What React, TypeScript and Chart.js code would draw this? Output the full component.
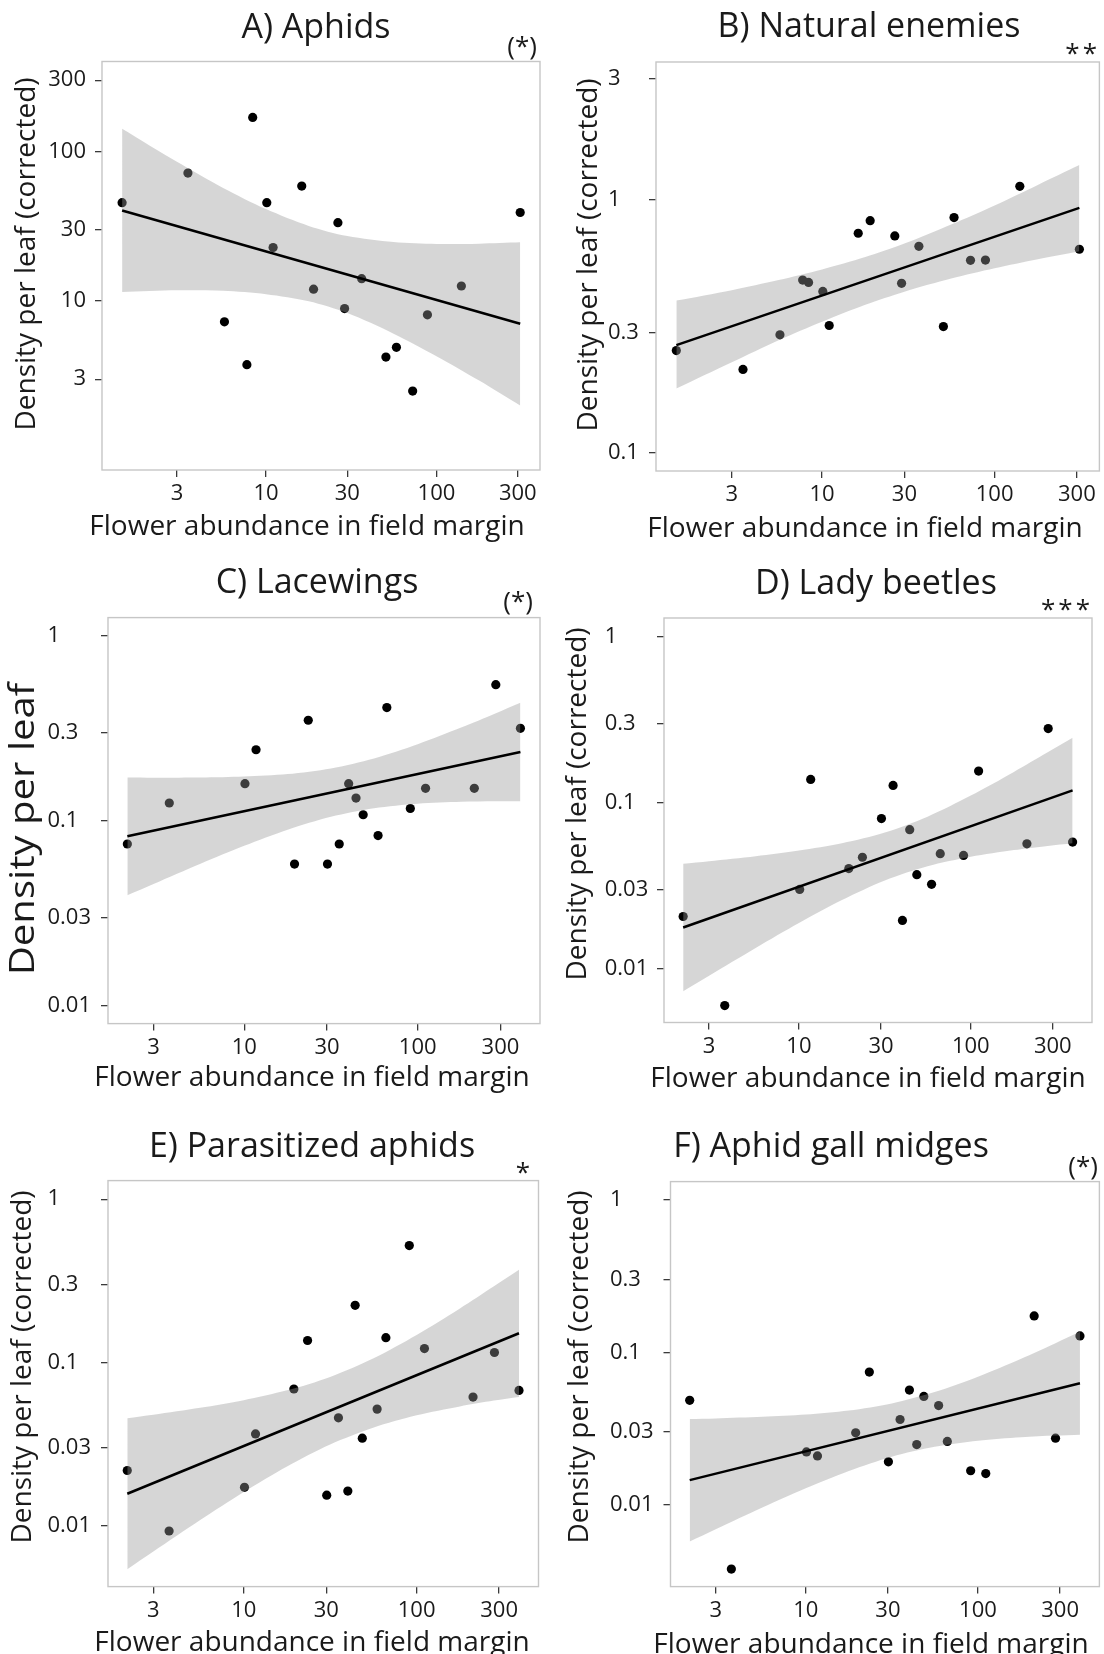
import React, { useEffect, useRef } from "react";
import { Chart, registerables } from "chart.js";

Chart.register(...registerables);

const FONT = "'Open Sans', 'Noto Sans', sans-serif";
const TEXT = "#1a1a1a";

// ---------- data: flower abundance (x) ----------
const flowersAB = [1.43, 3.48, 5.7, 7.72, 8.35, 10.1, 11.0, 16.2, 19.0, 26.4, 28.9, 36.4, 50.5, 58.2, 72.5, 88.5, 140, 310];
const flowersCF = [2.12, 3.7, 10.1, 11.7, 19.5, 23.4, 30.2, 35.3, 40.0, 44.1, 48.5, 59.1, 66.4, 90.7, 111, 212, 282, 391];

// ---------- data: densities (y) ----------
const aphidDensity = [45.5, 71.8, 7.26, 3.75, 169, 45.5, 22.8, 58.7, 12.0, 33.4, 8.9, 14.1, 4.22, 4.9, 2.5, 8.09, 12.6, 39.1];
const enemyDensity = [0.254, 0.214, 0.293, 0.482, 0.472, 0.435, 0.319, 0.738, 0.827, 0.72, 0.468, 0.655, 0.316, 0.851, 0.577, 0.578, 1.13, 0.638];
const lacewingDensity = [0.0751, 0.125, 0.159, 0.2425, 0.0585, 0.35, 0.0585, 0.0751, 0.159, 0.133, 0.108, 0.0834, 0.41, 0.1168, 0.15, 0.15, 0.545, 0.3166];
const ladyBeetleDensity = [0.0207, 0.00603, 0.0301, 0.138, 0.0402, 0.047, 0.0803, 0.127, 0.0196, 0.0688, 0.0369, 0.0323, 0.0494, 0.0482, 0.155, 0.0566, 0.279, 0.058];
const parasitizedDensity = [0.0218, 0.00929, 0.0172, 0.0365, 0.0688, 0.1363, 0.0154, 0.0458, 0.0163, 0.2238, 0.0344, 0.0518, 0.1418, 0.52, 0.1216, 0.0614, 0.1151, 0.0674];
const gallMidgeDensity = [0.0484, 0.00378, 0.0222, 0.0209, 0.0296, 0.0741, 0.0191, 0.0362, 0.0565, 0.0248, 0.0513, 0.0447, 0.026, 0.0167, 0.016, 0.1733, 0.0273, 0.128];

// ---------- confidence bands ----------
const bandFlowersAB = [1.43, 3, 5.6, 10, 17.8, 30, 56, 100, 178, 310];
const aphidUpper = [142, 85.3, 57.1, 41.2, 31.8, 27.2, 24.8, 24.1, 24.2, 24.7];
const aphidLower = [11.5, 11.8, 11.7, 11.1, 9.95, 8.3, 6.05, 4.28, 2.94, 2.0];
const enemyUpper = [0.4, 0.44, 0.482, 0.531, 0.594, 0.672, 0.799, 0.95, 1.145, 1.371];
const enemyLower = [0.18, 0.2285, 0.279, 0.33, 0.385, 0.434, 0.489, 0.537, 0.583, 0.627];

const bandFlowersCF = [2.12, 3, 5.6, 10, 17.8, 31.6, 56, 100, 178, 280, 391];
const lacewingUpper = [0.1718, 0.1714, 0.1715, 0.1736, 0.1792, 0.1922, 0.2175, 0.2597, 0.3194, 0.3808, 0.435];
const lacewingLower = [0.0397, 0.0457, 0.0588, 0.0734, 0.0897, 0.1054, 0.1172, 0.124, 0.1269, 0.1278, 0.1279];
const ladyUpper = [0.0429, 0.0445, 0.0477, 0.0516, 0.0571, 0.0662, 0.0824, 0.1104, 0.1532, 0.201, 0.2461];
const ladyLower = [0.00735, 0.00912, 0.01339, 0.01891, 0.026, 0.0341, 0.0415, 0.0473, 0.0519, 0.055, 0.0571];
const parasitizedUpper = [0.0456, 0.0479, 0.0528, 0.0588, 0.0675, 0.0816, 0.1057, 0.1473, 0.214, 0.2925, 0.3694];
const parasitizedLower = [0.00541, 0.00695, 0.01084, 0.0161, 0.0231, 0.0315, 0.0399, 0.0475, 0.0538, 0.0584, 0.0615];
const gallUpper = [0.0365, 0.0368, 0.0377, 0.039, 0.0415, 0.0462, 0.0548, 0.0692, 0.0908, 0.1143, 0.1361];
const gallLower = [0.00574, 0.00691, 0.00959, 0.01282, 0.01666, 0.02066, 0.024, 0.0263, 0.0277, 0.0284, 0.0288];

// ---------- fitted lines (end points) ----------
const fitFlowersAB = [1.43, 310];
const fitFlowersCF = [2.12, 391];
const aphidFit = [40.3, 7.05];
const enemyFit = [0.2668, 0.929];
const lacewingFit = [0.0826, 0.2356];
const ladyFit = [0.01777, 0.1187];
const parasitizedFit = [0.0157, 0.151];
const gallFit = [0.01449, 0.0626];

// ---------- axes ----------
const xTickValues = [3, 10, 30, 100, 300];
const yTicksAphids = [3, 10, 30, 100, 300];
const yTicksEnemies = [0.1, 0.3, 1, 3];
const yTicksSmall = [0.01, 0.03, 0.1, 0.3, 1];
const xRangeAB = [1.09, 405];
const xRangeCF = [1.64, 507];
const yRangeAphids = [0.741, 400];
const yRangeEnemies = [0.085, 3.5];
const yRangeLacewings = [0.00804, 1.255];
const yRangeLady = [0.00477, 1.29];
const yRangeParasitized = [0.00424, 1.3];
const yRangeGall = [0.0029, 1.318];

const xTitle = "Flower abundance in field margin";
const yTitleCorrected = "Density per leaf (corrected)";

type Layout = {
  left: number; top: number; w: number; h: number;
  pl: number; pr: number; pt: number; pb: number;
  align: "near" | "far"; labelLeft: number;
  titleX: number; titleY: number; starsX: number; starsY: number;
  yTitleX: number; yTitleY: number; yTitleSize: number; yTitleStretch: number;
  xTitleX: number; xTitleY: number;
};

type PanelDef = {
  key: string; title: string; stars: string; yTitle: string;
  x: number[]; y: number[]; bandX: number[]; upper: number[]; lower: number[];
  fitX: number[]; fitY: number[]; xRange: number[]; yRange: number[]; yTicks: number[];
  L: Layout;
};

const panels: PanelDef[] = [
  {
    key: "A", title: "A) Aphids", stars: "(*)", yTitle: yTitleCorrected,
    x: flowersAB, y: aphidDensity, bandX: bandFlowersAB, upper: aphidUpper, lower: aphidLower,
    fitX: fitFlowersAB, fitY: aphidFit, xRange: xRangeAB, yRange: yRangeAphids, yTicks: yTicksAphids,
    L: { left: 0, top: 0, w: 552, h: 555, pl: 102, pr: 540, pt: 61.5, pb: 470, align: "near", labelLeft: 0,
      titleX: 316, titleY: 38, starsX: 537, starsY: 55, yTitleX: 27, yTitleY: 254, yTitleSize: 28, yTitleStretch: 1,
      xTitleX: 307, xTitleY: 527 },
  },
  {
    key: "B", title: "B) Natural enemies", stars: "**", yTitle: yTitleCorrected,
    x: flowersAB, y: enemyDensity, bandX: bandFlowersAB, upper: enemyUpper, lower: enemyLower,
    fitX: fitFlowersAB, fitY: enemyFit, xRange: xRangeAB, yRange: yRangeEnemies, yTicks: yTicksEnemies,
    L: { left: 552, top: 0, w: 552, h: 555, pl: 104, pr: 549, pt: 62, pb: 471, align: "far", labelLeft: 56,
      titleX: 317, titleY: 37, starsX: 548, starsY: 62, yTitleX: 37, yTitleY: 255, yTitleSize: 28, yTitleStretch: 1,
      xTitleX: 313, xTitleY: 529 },
  },
  {
    key: "C", title: "C) Lacewings", stars: "(*)", yTitle: "Density per leaf",
    x: flowersCF, y: lacewingDensity, bandX: bandFlowersCF, upper: lacewingUpper, lower: lacewingLower,
    fitX: fitFlowersCF, fitY: lacewingFit, xRange: xRangeCF, yRange: yRangeLacewings, yTicks: yTicksSmall,
    L: { left: 0, top: 555, w: 552, h: 550, pl: 108, pr: 540, pt: 62.6, pb: 468.6, align: "far", labelLeft: 47.5,
      titleX: 317, titleY: 38, starsX: 533, starsY: 55, yTitleX: 24, yTitleY: 274, yTitleSize: 34, yTitleStretch: 1.18,
      xTitleX: 312, xTitleY: 523 },
  },
  {
    key: "D", title: "D) Lady beetles", stars: "***", yTitle: yTitleCorrected,
    x: flowersCF, y: ladyBeetleDensity, bandX: bandFlowersCF, upper: ladyUpper, lower: ladyLower,
    fitX: fitFlowersCF, fitY: ladyFit, xRange: xRangeCF, yRange: yRangeLady, yTicks: yTicksSmall,
    L: { left: 552, top: 555, w: 552, h: 550, pl: 112, pr: 540, pt: 63, pb: 467.5, align: "far", labelLeft: 52.7,
      titleX: 324, titleY: 38.5, starsX: 541, starsY: 63, yTitleX: 26.4, yTitleY: 249, yTitleSize: 28, yTitleStretch: 1,
      xTitleX: 316, xTitleY: 524 },
  },
  {
    key: "E", title: "E) Parasitized aphids", stars: "*", yTitle: yTitleCorrected,
    x: flowersCF, y: parasitizedDensity, bandX: bandFlowersCF, upper: parasitizedUpper, lower: parasitizedLower,
    fitX: fitFlowersCF, fitY: parasitizedFit, xRange: xRangeCF, yRange: yRangeParasitized, yTicks: yTicksSmall,
    L: { left: 0, top: 1105, w: 552, h: 560, pl: 108, pr: 538.5, pt: 75.6, pb: 481.6, align: "far", labelLeft: 47.5,
      titleX: 312, titleY: 52, starsX: 533, starsY: 76, yTitleX: 23, yTitleY: 262, yTitleSize: 28, yTitleStretch: 1,
      xTitleX: 312, xTitleY: 538 },
  },
  {
    key: "F", title: "F) Aphid gall midges", stars: "(*)", yTitle: yTitleCorrected,
    x: flowersCF, y: gallMidgeDensity, bandX: bandFlowersCF, upper: gallUpper, lower: gallLower,
    fitX: fitFlowersCF, fitY: gallFit, xRange: xRangeCF, yRange: yRangeGall, yTicks: yTicksSmall,
    L: { left: 552, top: 1105, w: 552, h: 560, pl: 118.5, pr: 548.3, pt: 76.6, pb: 481.6, align: "far", labelLeft: 58,
      titleX: 279, titleY: 52, starsX: 546, starsY: 70, yTitleX: 28, yTitleY: 262, yTitleSize: 28, yTitleStretch: 1,
      xTitleX: 319, xTitleY: 540 },
  },
];

function Panel({ def }: { def: PanelDef }) {
  const ref = useRef<HTMLCanvasElement | null>(null);

  useEffect(() => {
    const canvas = ref.current;
    if (!canvas) return;
    const L = def.L;

    const decor = {
      id: "decor" + def.key,
      beforeDatasetsDraw(chart: any) {
        const { ctx, chartArea: a } = chart;
        ctx.save();
        ctx.strokeStyle = "#c6c6c6";
        ctx.lineWidth = 1.4;
        ctx.strokeRect(a.left, a.top, a.right - a.left, a.bottom - a.top);
        ctx.restore();
      },
      afterDraw(chart: any) {
        const ctx = chart.ctx as any;
        ctx.save();
        ctx.fillStyle = TEXT;
        ctx.textAlign = "center";
        ctx.textBaseline = "alphabetic";
        ctx.font = `34px ${FONT}`;
        ctx.fillText(def.title, L.titleX, L.titleY);
        ctx.font = `26px ${FONT}`;
        ctx.textAlign = "right";
        if ("letterSpacing" in ctx) ctx.letterSpacing = def.stars.indexOf("(") >= 0 ? "0px" : "3px";
        ctx.fillText(def.stars, L.starsX, L.starsY);
        if ("letterSpacing" in ctx) ctx.letterSpacing = "0px";
        ctx.font = `28px ${FONT}`;
        ctx.textAlign = "center";
        ctx.textBaseline = "middle";
        ctx.fillText(xTitle, L.xTitleX, L.xTitleY);
        ctx.translate(L.yTitleX, L.yTitleY);
        ctx.rotate(-Math.PI / 2);
        ctx.scale(L.yTitleStretch, 1);
        ctx.font = `${L.yTitleSize}px ${FONT}`;
        ctx.fillText(def.yTitle, 0, 0);
        ctx.restore();
      },
    };

    const tickFont = { family: FONT, size: 22 };
    const gridCfg = {
      display: true,
      drawOnChartArea: false,
      drawTicks: true,
      tickLength: 7,
      color: "#3a3a3a",
      lineWidth: 1.3,
    };

    const chart = new Chart(canvas, {
      type: "scatter",
      data: {
        datasets: [
          {
            label: "fit",
            data: def.fitX.map((x, i) => ({ x, y: def.fitY[i] })),
            showLine: true,
            borderColor: "#000",
            borderWidth: 2.5,
            pointRadius: 0,
            fill: false,
            order: 0,
          },
          {
            label: "upper",
            data: def.bandX.map((x, i) => ({ x, y: def.upper[i] })),
            showLine: true,
            borderColor: "rgba(0,0,0,0)",
            borderWidth: 0,
            pointRadius: 0,
            tension: 0.3,
            fill: false,
            order: 1,
          },
          {
            label: "lower",
            data: def.bandX.map((x, i) => ({ x, y: def.lower[i] })),
            showLine: true,
            borderColor: "rgba(0,0,0,0)",
            borderWidth: 0,
            pointRadius: 0,
            tension: 0.3,
            fill: "-1",
            backgroundColor: "rgba(153,153,153,0.4)",
            order: 2,
          },
          {
            label: "points",
            data: def.x.map((x, i) => ({ x, y: def.y[i] })),
            showLine: false,
            pointRadius: 4.6,
            pointBackgroundColor: "#000",
            pointBorderWidth: 0,
            pointBorderColor: "#000",
            order: 3,
          },
        ],
      },
      options: {
        responsive: false,
        animation: false,
        events: [],
        layout: {
          padding: {
            left: L.align === "far" ? L.labelLeft : 0,
            top: L.pt,
            right: L.w - L.pr,
            bottom: 0,
          },
        },
        plugins: {
          legend: { display: false },
          tooltip: { enabled: false },
          title: { display: false },
        },
        scales: {
          x: {
            type: "logarithmic",
            position: "bottom",
            bounds: "data",
            min: def.xRange[0],
            max: def.xRange[1],
            afterBuildTicks: (s: any) => {
              s.ticks = xTickValues.map((v) => ({ value: v }));
            },
            afterFit: (s: any) => {
              s.height = L.h - L.pb;
            },
            ticks: {
              autoSkip: false,
              maxRotation: 0,
              padding: 4,
              color: TEXT,
              font: tickFont,
              callback: (v: any) => String(v),
            },
            grid: gridCfg,
            border: { display: false },
          },
          y: {
            type: "logarithmic",
            position: "left",
            bounds: "data",
            min: def.yRange[0],
            max: def.yRange[1],
            afterBuildTicks: (s: any) => {
              s.ticks = def.yTicks.map((v) => ({ value: v }));
            },
            afterFit: (s: any) => {
              s.width = L.align === "far" ? L.pl - L.labelLeft : L.pl;
            },
            ticks: {
              autoSkip: false,
              crossAlign: L.align,
              padding: 9,
              color: TEXT,
              font: tickFont,
              callback: (v: any) => String(v),
            },
            grid: gridCfg,
            border: { display: false },
          },
        },
      },
      plugins: [decor],
    } as any);

    return () => chart.destroy();
  }, [def]);

  const L = def.L;
  return (
    <canvas
      ref={ref}
      width={L.w}
      height={L.h}
      style={{ position: "absolute", left: L.left, top: L.top, width: L.w, height: L.h }}
    />
  );
}

export default function App() {
  return (
    <div
      style={{
        position: "absolute",
        left: 0,
        top: 0,
        width: 1104,
        height: 1654,
        overflow: "hidden",
        background: "#ffffff",
      }}
    >
      {panels.map((p) => (
        <Panel key={p.key} def={p} />
      ))}
    </div>
  );
}
